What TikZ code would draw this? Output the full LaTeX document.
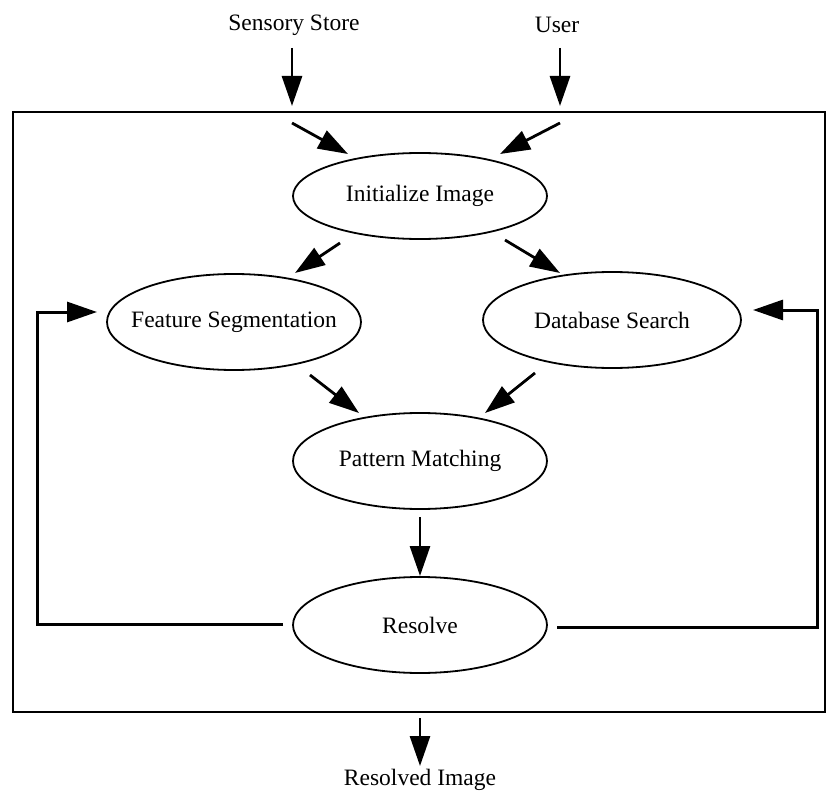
\documentclass[tikz,border=0pt]{standalone}
\usepackage{fontspec}
\setmainfont{Liberation Serif}
\usetikzlibrary{shapes.geometric,arrows.meta}
\newcommand{\ptxt}[1]{\makebox[0pt]{#1}}
\begin{document}
\begin{tikzpicture}[x=1pt,y=-1pt,
  proc/.style={ellipse,draw,line width=1.8pt,inner sep=0pt,minimum width=254pt,minimum height=96pt,font=\fontsize{23.5}{28}\selectfont},
  lbl/.style={font=\fontsize{23.5}{28}\selectfont,inner sep=0pt},
  tip/.style={-{Triangle[length=30pt,width=20pt]}},
  arr/.style={line width=2.8pt,tip},
  fb/.style={line width=3pt},
  frame/.style={line width=2.2pt}]
\useasboundingbox (0,0) rectangle (827,794);
% frame
\draw[frame] (13,112) rectangle (825,712);
% labels
\node[lbl] (ss) at (294,25) {Sensory Store};
\node[lbl] (user) at (557,25) {User};
\node[lbl] (out) at (420,780) {Resolved Image};
% processes
\node[proc,minimum height=86pt] (init) at (420,196) {\ptxt{Initialize Image}};
\node[proc] (feat) at (234,322) {\ptxt{Feature Segmentation}};
\node[proc,minimum width=258pt] (db) at (612,320) {\ptxt{Database Search}};
\node[proc] (pm) at (420,461) {\ptxt{Pattern Matching}};
\node[proc] (res) at (420,625) {\ptxt{Resolve}};
% coordinates
\coordinate (ssA) at (292,48);  \coordinate (ssB) at (292,106);
\coordinate (usA) at (560,48);  \coordinate (usB) at (560,106);
\coordinate (i1A) at (292,123); \coordinate (i1B) at (348,154);
\coordinate (i2A) at (560,123); \coordinate (i2B) at (500,154);
\coordinate (flA) at (340,243); \coordinate (flB) at (295,273);
\coordinate (drA) at (505,240); \coordinate (drB) at (560,273);
\coordinate (fpA) at (310,375); \coordinate (fpB) at (359,413);
\coordinate (dpA) at (535,373); \coordinate (dpB) at (485,413);
\coordinate (prA) at (420,517); \coordinate (prB) at (420,576);
\coordinate (roA) at (420,718); \coordinate (roB) at (420,766);
\coordinate (lfA) at (283,624); \coordinate (lfC) at (37,624); \coordinate (lfB) at (97,312);
\coordinate (rfA) at (557,627); \coordinate (rfC) at (817,627); \coordinate (rfB) at (753,310);
% arrows
\draw[arr] (ssA) -- (ssB);
\draw[arr] (usA) -- (usB);
\draw[arr] (i1A) -- (i1B);
\draw[arr] (i2A) -- (i2B);
\draw[arr] (flA) -- (flB);
\draw[arr] (drA) -- (drB);
\draw[arr] (fpA) -- (fpB);
\draw[arr] (dpA) -- (dpB);
\draw[arr] (prA) -- (prB);
\draw[arr] (roA) -- (roB);
% feedback
\draw[fb,tip] (lfA) -- (lfC) |- (lfB);
\draw[fb,tip] (rfA) -- (rfC) |- (rfB);
\end{tikzpicture}
\end{document}
